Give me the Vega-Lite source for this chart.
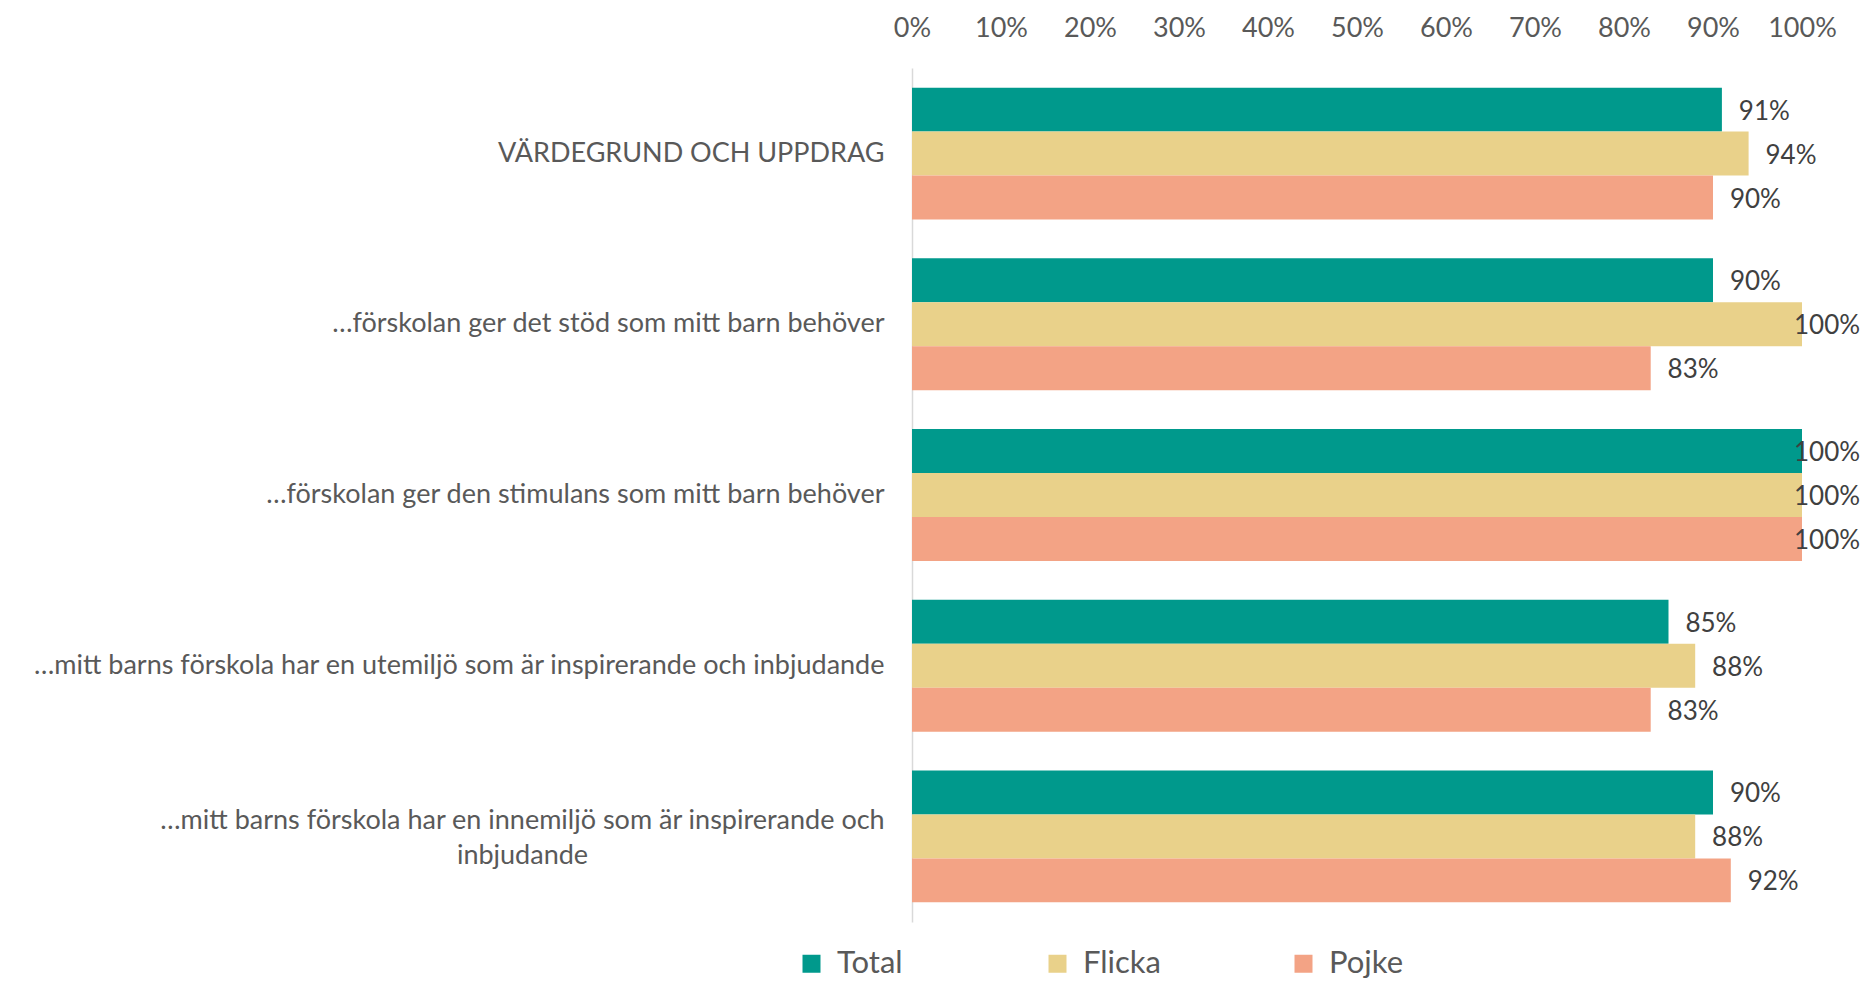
{
  "$schema": "https://vega.github.io/schema/vega-lite/v6.json",
  "width": 890,
  "height": 854,
  "autosize": {"type": "none"},
  "padding": {"left": 912, "top": 68, "right": 61, "bottom": 61},
  "background": "white",
  "config": {"view": {"stroke": null}, "font": "Lato"},
  "data": {
    "values": [
      {"question": "VÄRDEGRUND OCH UPPDRAG", "group": "Total", "value": 0.91},
      {"question": "VÄRDEGRUND OCH UPPDRAG", "group": "Flicka", "value": 0.94},
      {"question": "VÄRDEGRUND OCH UPPDRAG", "group": "Pojke", "value": 0.90},
      {"question": "…förskolan ger det stöd som mitt barn behöver", "group": "Total", "value": 0.90},
      {"question": "…förskolan ger det stöd som mitt barn behöver", "group": "Flicka", "value": 1.00},
      {"question": "…förskolan ger det stöd som mitt barn behöver", "group": "Pojke", "value": 0.83},
      {"question": "…förskolan ger den stimulans som mitt barn behöver", "group": "Total", "value": 1.00},
      {"question": "…förskolan ger den stimulans som mitt barn behöver", "group": "Flicka", "value": 1.00},
      {"question": "…förskolan ger den stimulans som mitt barn behöver", "group": "Pojke", "value": 1.00},
      {"question": "…mitt barns förskola har en utemiljö som är inspirerande och inbjudande", "group": "Total", "value": 0.85},
      {"question": "…mitt barns förskola har en utemiljö som är inspirerande och inbjudande", "group": "Flicka", "value": 0.88},
      {"question": "…mitt barns förskola har en utemiljö som är inspirerande och inbjudande", "group": "Pojke", "value": 0.83},
      {"question": "…mitt barns förskola har en innemiljö som är inspirerande och inbjudande", "group": "Total", "value": 0.90},
      {"question": "…mitt barns förskola har en innemiljö som är inspirerande och inbjudande", "group": "Flicka", "value": 0.88},
      {"question": "…mitt barns förskola har en innemiljö som är inspirerande och inbjudande", "group": "Pojke", "value": 0.92}
    ]
  },
  "encoding": {
    "y": {
      "field": "question",
      "type": "nominal",
      "sort": null,
      "title": null,
      "scale": {"paddingInner": 0.227, "paddingOuter": 0.115},
      "axis": {
        "domain": true,
        "domainColor": "#d9d9d9",
        "domainWidth": 1.5,
        "ticks": false,
        "labelFontSize": 27,
        "labelColor": "#595959",
        "labelLimit": 2000,
        "labelLineHeight": 35,
        "labelAlign": {"condition": {"test": "indexof(datum.label, 'innemiljö') >= 0", "value": "center"}, "value": "right"},
        "labelPadding": {"condition": {"test": "indexof(datum.label, 'innemiljö') >= 0", "value": 390}, "value": 28},
        "labelOffset": {"condition": {"test": "indexof(datum.label, 'innemiljö') >= 0", "value": -15}, "value": 0},
        "labelExpr": "indexof(datum.label, 'innemiljö') >= 0 ? ['…mitt barns förskola har en innemiljö som är inspirerande och', 'inbjudande'] : datum.label"
      }
    },
    "yOffset": {"field": "group", "type": "nominal", "sort": ["Total", "Flicka", "Pojke"]}
  },
  "layer": [
    {
      "mark": {"type": "bar"},
      "encoding": {
        "x": {
          "field": "value",
          "type": "quantitative",
          "title": null,
          "scale": {"domain": [0, 1]},
          "axis": {
            "orient": "top",
            "format": ".0%",
            "values": [0, 0.1, 0.2, 0.3, 0.4, 0.5, 0.6, 0.7, 0.8, 0.9, 1],
            "ticks": false,
            "domain": false,
            "grid": false,
            "labelFontSize": 27,
            "labelColor": "#595959",
            "labelPadding": 26,
            "labelFlush": false
          }
        },
        "color": {
          "field": "group",
          "type": "nominal",
          "sort": ["Total", "Flicka", "Pojke"],
          "scale": {"domain": ["Total", "Flicka", "Pojke"], "range": ["#00998C", "#E9D18A", "#F3A385"]},
          "legend": {
            "orient": "none",
            "legendX": -116,
            "legendY": 880,
            "direction": "horizontal",
            "title": null,
            "symbolType": "square",
            "symbolSize": 324,
            "symbolStrokeWidth": 0,
            "labelFontSize": 31,
            "labelColor": "#595959",
            "gridAlign": "all",
            "columnPadding": 127,
            "labelOffset": 10
          }
        }
      }
    },
    {
      "transform": [{"calculate": "min(datum.value + 0.019, 0.991)", "as": "lx"}],
      "mark": {"type": "text", "align": "left", "baseline": "middle", "fontSize": 26, "color": "#404040", "dy": 2},
      "encoding": {
        "x": {
          "field": "lx",
          "type": "quantitative",
          "title": null,
          "scale": {"domain": [0, 1]},
          "axis": {
            "orient": "top",
            "format": ".0%",
            "values": [0, 0.1, 0.2, 0.3, 0.4, 0.5, 0.6, 0.7, 0.8, 0.9, 1],
            "ticks": false,
            "domain": false,
            "grid": false,
            "labelFontSize": 27,
            "labelColor": "#595959",
            "labelPadding": 26,
            "labelFlush": false
          }
        },
        "text": {"field": "value", "type": "quantitative", "format": ".0%"}
      }
    }
  ]
}
